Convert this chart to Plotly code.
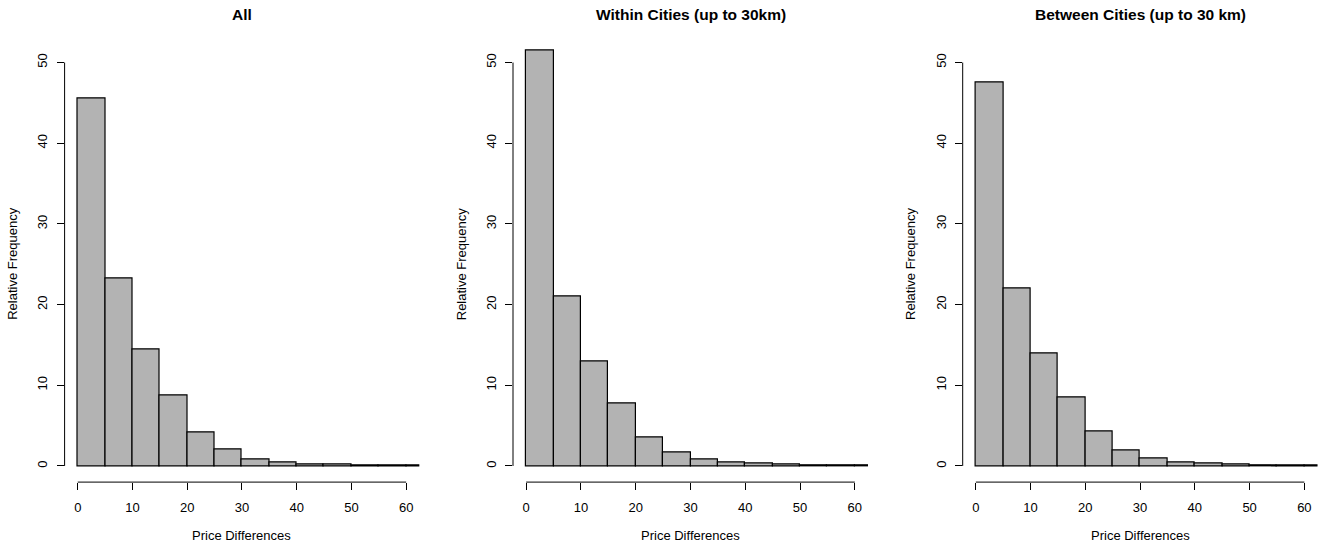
import plotly.graph_objects as go

# ---- data ----
bin_starts = [0, 5, 10, 15, 20, 25, 30, 35, 40, 45, 50, 55, 60]
bin_width = 5
panel_titles = ["All", "Within Cities (up to 30km)", "Between Cities (up to 30 km)"]
freq_all = [45.6, 23.3, 14.5, 8.8, 4.2, 2.0, 0.87, 0.41, 0.25, 0.16, 0.06, 0.03, 0.02]
freq_within = [51.45, 21.05, 12.9, 7.75, 3.6, 1.66, 0.8, 0.42, 0.26, 0.17, 0.06, 0.03, 0.02]
freq_between = [47.6, 22.0, 13.9, 8.47, 4.23, 1.93, 0.92, 0.46, 0.31, 0.19, 0.06, 0.03, 0.02]
x_ticks = [0, 10, 20, 30, 40, 50, 60]
y_ticks = [0, 10, 20, 30, 40, 50]
x_label = "Price Differences"
y_label = "Relative Frequency"

series = [freq_all, freq_within, freq_between]

W, H = 1328, 544
FONT = "Liberation Sans, Arial, Helvetica, sans-serif"

# plot-region pixel boxes (left, right) for each panel; top/bottom shared
panel_px = [(64.6, 419.3), (513.0, 868.0), (962.7, 1317.5)]
top_px, bot_px = 46.4, 482.1
ydom = [1 - bot_px / H, 1 - top_px / H]

fig = go.Figure()
layout = dict(
    width=W, height=H,
    margin=dict(l=0, r=0, t=0, b=0),
    paper_bgcolor="white", plot_bgcolor="white",
    showlegend=False, bargap=0,
    font=dict(family=FONT, size=13, color="black"),
)
annotations = []
shapes = []

for i, (vals, title) in enumerate(zip(series, panel_titles)):
    n = "" if i == 0 else str(i + 1)
    xa, ya = "x" + n, "y" + n
    centers = [s + bin_width / 2 for s in bin_starts]
    fig.add_trace(go.Bar(
        x=centers, y=vals, width=[bin_width] * len(vals),
        marker=dict(color="#B3B3B3", line=dict(color="black", width=1.2)),
        xaxis=xa, yaxis=ya, hoverinfo="x+y",
    ))
    l, r = panel_px[i]
    layout["xaxis" + n] = dict(
        domain=[l / W, r / W], range=[-2.4, 62.4], anchor=ya,
        showgrid=False, zeroline=False, showline=False,
        tickmode="array", tickvals=x_ticks, ticktext=[str(t) for t in x_ticks],
        ticks="outside", ticklen=7, tickwidth=1, tickcolor="black",
        ticklabelstandoff=6,
        tickfont=dict(family=FONT, size=13, color="black"),
    )
    layout["yaxis" + n] = dict(
        domain=ydom, range=[-2, 52], anchor=xa,
        showgrid=False, zeroline=False, showline=False,
        tickmode="array", tickvals=y_ticks, ticktext=[str(t) for t in y_ticks],
        ticks="outside", ticklen=7, tickwidth=1, tickcolor="black",
        tickangle=-90, ticklabelstandoff=4,
        tickfont=dict(family=FONT, size=13, color="black"),
    )
    # R-style axis lines spanning only the tick range
    shapes.append(dict(type="line", xref=xa, yref=ya + " domain",
                       x0=x_ticks[0], x1=x_ticks[-1], y0=0, y1=0,
                       line=dict(color="black", width=1)))
    shapes.append(dict(type="line", xref=xa + " domain", yref=ya,
                       x0=0, x1=0, y0=y_ticks[0], y1=y_ticks[-1],
                       line=dict(color="black", width=1)))
    cx = (l + r) / 2 / W
    annotations.append(dict(text="<b>" + title + "</b>", x=cx, y=1 - 14 / H,
                            xref="paper", yref="paper", showarrow=False,
                            xanchor="center", yanchor="middle",
                            font=dict(family=FONT, size=15.5, color="black")))
    annotations.append(dict(text=x_label, x=cx, y=1 - 535 / H,
                            xref="paper", yref="paper", showarrow=False,
                            xanchor="center", yanchor="middle",
                            font=dict(family=FONT, size=13, color="black")))
    annotations.append(dict(text=y_label, x=(l - 52) / W, y=1 - (top_px + bot_px) / 2 / H,
                            xref="paper", yref="paper", showarrow=False,
                            textangle=-90, xanchor="center", yanchor="middle",
                            font=dict(family=FONT, size=13, color="black")))

layout["annotations"] = annotations
layout["shapes"] = shapes
fig.update_layout(**layout)
fig.write_html("out.html")
